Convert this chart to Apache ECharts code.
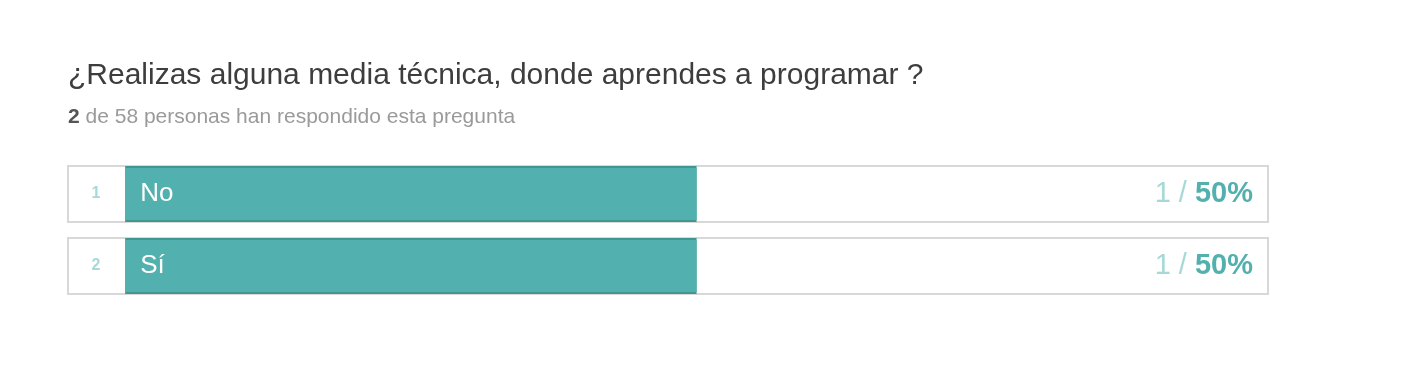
<!DOCTYPE html>
<html>
<head>
<meta charset="utf-8">
<script src="https://cdn.jsdelivr.net/npm/echarts@6/dist/echarts.min.js"></script>
<style>
html,body{margin:0;padding:0;background:#fff;}
#chart{width:1408px;height:370px;}
</style>
</head>
<body>
<div id="chart"></div>
<script>
const titleText = '¿Realizas alguna media técnica, donde aprendes a programar ?';
const answered = 2;
const totalPeople = 58;
const ranks = ['1', '2'];
const categories = ['No', 'Sí'];
const counts = [1, 1];
const percents = [50, 50];

const chart = echarts.init(document.getElementById('chart'), null, {renderer: 'canvas'});
const font = '"Liberation Sans", Arial, Helvetica, sans-serif';

const catAxis = (show) => ({
  type: 'category',
  inverse: true,
  data: ranks,
  z: 10,
  axisLine: {show: false},
  axisTick: {show: false},
  splitLine: {show: false},
  axisLabel: show ? {
    inside: true, margin: 28, align: 'center',
    fontFamily: font, fontSize: 16, fontWeight: 'bold', color: '#a6dad7'
  } : {show: false}
});

chart.setOption({
  animation: false,
  backgroundColor: '#ffffff',
  title: {
    left: 68,
    top: 61,
    padding: 0,
    text: titleText,
    textStyle: {fontFamily: font, fontSize: 30, fontWeight: 'normal', color: '#3d3d3d'},
    subtext: '{b|' + answered + '} de ' + totalPeople + ' personas han respondido esta pregunta',
    subtextStyle: {
      fontFamily: font, fontSize: 21, color: '#9a9a9a',
      rich: {b: {fontFamily: font, fontSize: 21, fontWeight: 'bold', color: '#555555'}}
    },
    itemGap: 16
  },
  grid: {left: 68, right: 140, top: 158, height: 144},
  xAxis: {
    type: 'value', min: -5, max: 100,
    show: false
  },
  yAxis: [catAxis(true), catAxis(false)],
  series: [
    {
      type: 'bar',
      name: 'edge',
      yAxisIndex: 0,
      data: percents,
      barWidth: 56,
      showBackground: true,
      backgroundStyle: {color: '#ffffff', borderColor: '#d8d8d8', borderWidth: 2},
      itemStyle: {color: '#3f9692'},
      silent: true
    },
    {
      type: 'bar',
      name: 'fill',
      yAxisIndex: 1,
      data: percents,
      barWidth: 52,
      itemStyle: {color: '#52b0ae'},
      label: {
        show: true, position: 'insideLeft', distance: 15,
        fontFamily: font, fontSize: 26, color: '#ffffff',
        formatter: p => categories[p.dataIndex]
      }
    },
    {
      type: 'bar',
      name: 'result',
      yAxisIndex: 1,
      data: percents.map(() => 100),
      barWidth: 52,
      barGap: '-100%',
      itemStyle: {color: 'rgba(0,0,0,0)'},
      silent: true,
      label: {
        show: true, position: 'insideRight', distance: 15,
        formatter: p => '{n|' + counts[p.dataIndex] + ' / }{p|' + percents[p.dataIndex] + '%}',
        rich: {
          n: {fontFamily: font, fontSize: 29, color: '#a6d9d6'},
          p: {fontFamily: font, fontSize: 29, fontWeight: 'bold', color: '#52b0ae'}
        }
      }
    }
  ]
});
</script>
</body>
</html>
